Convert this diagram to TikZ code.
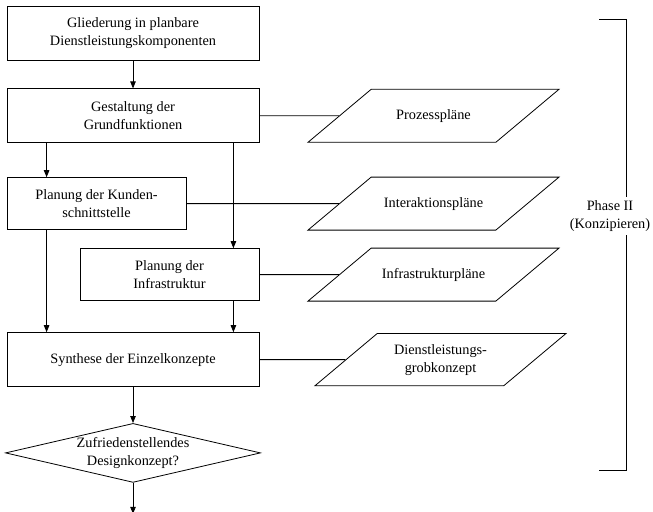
\documentclass[tikz,border=0pt]{standalone}
\usepackage{fontspec}
\setmainfont{Liberation Serif}
\usetikzlibrary{arrows.meta,calc,positioning,shapes.geometric}

\begin{document}
\begin{tikzpicture}[
  x=1bp, y=1bp,
  >={Triangle[length=7bp,width=5.5bp]},
  every node/.style={font=\fontsize{14.3bp}{18bp}\selectfont},
  box/.style={draw, line width=0.8bp, align=center, minimum width=252bp, minimum height=54bp, inner sep=2bp},
  smallbox/.style={box, minimum width=179bp, minimum height=52bp},
  % natural height kept at 53bp so the 40 degree slant spans the full height
  plan/.style={draw, line width=0.8bp, trapezium, trapezium left angle=40, trapezium right angle=140, trapezium stretches body=true, minimum width=251bp, align=center, inner xsep=1bp, inner ysep=19.5bp, text height=10.5bp, text depth=3.5bp},
  decision/.style={draw, line width=0.8bp, diamond, aspect=4.3, minimum width=255bp, minimum height=59bp, inner sep=0pt, align=center},
  arrow/.style={->, line width=0.8bp},
  link/.style={line width=0.8bp}
]
  \useasboundingbox (0,0) rectangle (653,-512);

  \node[box] (glied) at (133,-33) {Gliederung in planbare\\Dienstleistungskomponenten};
  \node[box, below=28bp of glied] (gestalt) {Gestaltung der\\Grundfunktionen};
  \node[smallbox, below right=34bp and 0bp of gestalt.south west] (kunden) {Planung der Kunden-\\schnittstelle};
  \node[smallbox, below left=105bp and 0bp of gestalt.south east] (infra) {Planung der\\Infrastruktur};
  \node[box, below=189bp of gestalt] (synth) {Synthese der Einzelkonzepte};
  \node[decision, below=36bp of synth] (design) {Zufriedenstellendes\\Designkonzept?};
  \coordinate[below=31bp of design] (out);

  % columns for the vertical arrows and the plan shapes
  \coordinate (colL) at ($(glied.west)+(40,0)$);
  \coordinate (colR) at ($(glied.east)+(-26,0)$);
  \coordinate (colP) at (433.5,0);

  \node[plan] (prozess) at (gestalt -| colP) {Prozesspläne};
  \node[plan] (interakt) at (kunden -| colP) {Interaktionspläne};
  \node[plan] (infraplan) at (infra -| colP) {Infrastrukturpläne};
  \node[plan, text height=, text depth=, inner ysep=10.6bp] (grob) at ($(synth -| colP)+(7,0)$) {Dienstleistungs-\\grobkonzept};

  \draw[arrow] (glied) -- (gestalt);
  \draw[arrow] (colL |- gestalt.south) -- (colL |- kunden.north);
  \draw[arrow] (colR |- gestalt.south) -- (colR |- infra.north);
  \draw[arrow] (colL |- kunden.south) -- (colL |- synth.north);
  \draw[arrow] (colR |- infra.south) -- (colR |- synth.north);
  \draw[arrow] (synth) -- (design);
  \draw[arrow] (design) -- (out);

  \draw[link] (gestalt.east) -- (prozess);
  \draw[link] (kunden.east) -- (interakt);
  \draw[link] (infra.east) -- (infraplan);
  \draw[link] (synth.east) -- (grob);

  % phase bracket
  \coordinate (brTop) at (599,-19);
  \coordinate (brBot) at (599,-470);
  \coordinate (brX) at (626,0);
  \node[align=center] (phase) at (610,-216) {Phase II\\(Konzipieren)};
  \draw[link] (brTop) -| (phase.north -| brX);
  \draw[link] (brBot) -| (phase.south -| brX);
\end{tikzpicture}
\end{document}
